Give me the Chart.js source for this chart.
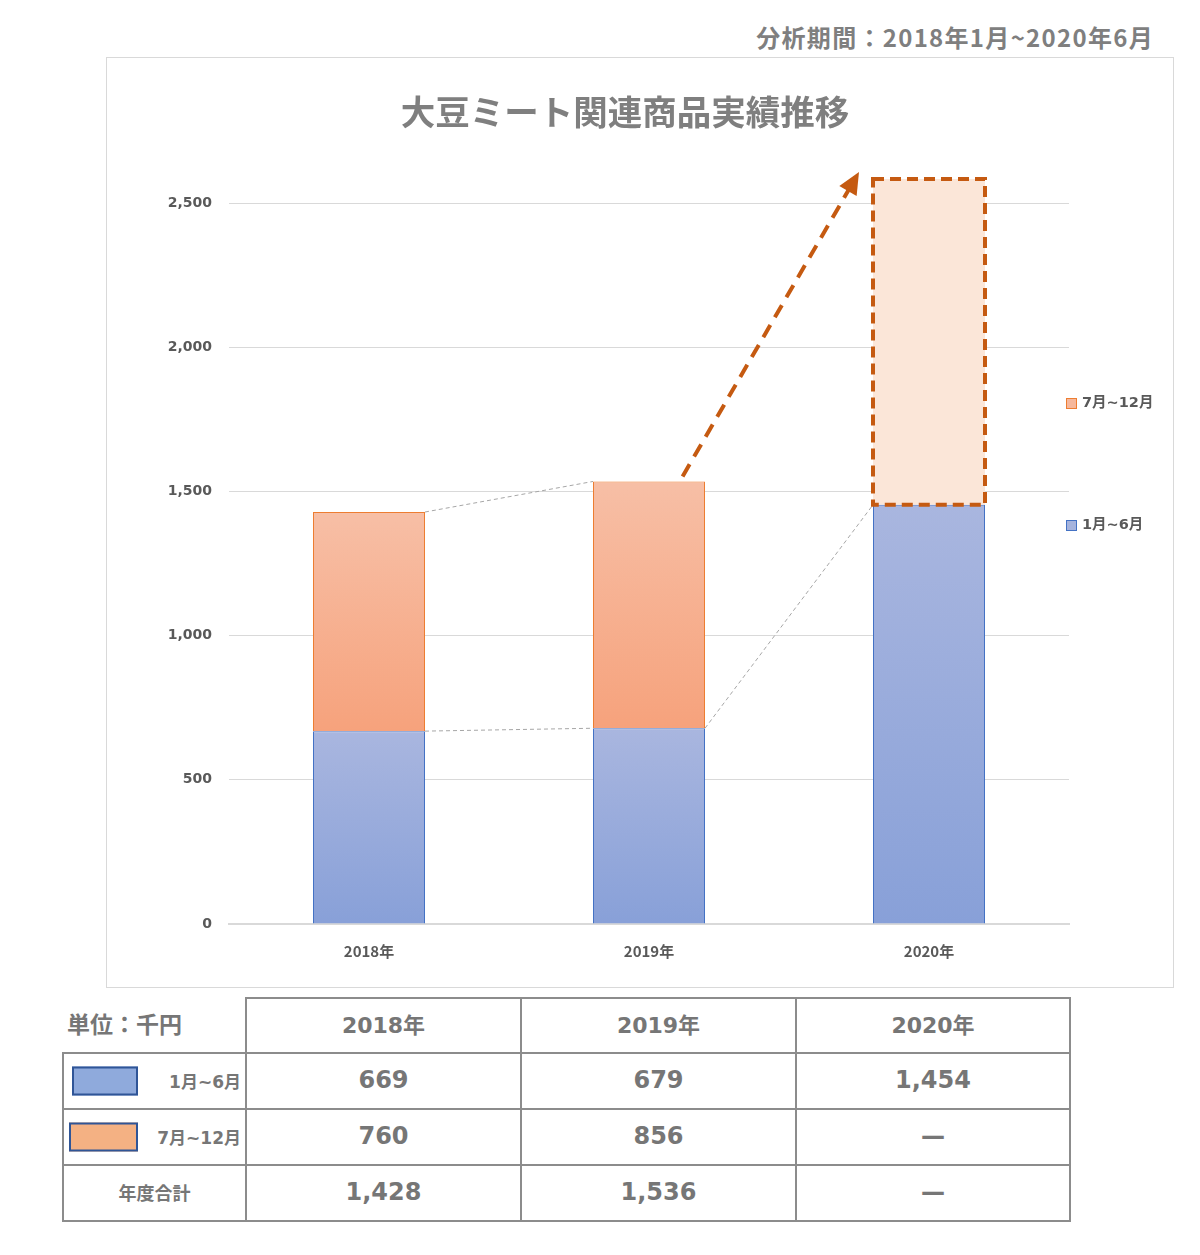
<!DOCTYPE html>
<html lang="ja">
<head>
<meta charset="utf-8">
<title>大豆ミート関連商品実績推移</title>
<script src="https://cdn.jsdelivr.net/npm/chart.js@4/dist/chart.umd.min.js"></script>
<style>
  html, body { margin: 0; padding: 0; background: #fff; }
  body { width: 1200px; height: 1255px; position: relative; overflow: hidden;
         font-family: "Noto Sans CJK JP", "Noto Sans", sans-serif; color: #7f7f7f; }
  #period { position: absolute; right: 46px; top: 21px; font-size: 24px; font-weight: bold;
            line-height: 32px; letter-spacing: 1.3px; color: #7f7f7f; }
  #chart-box { position: absolute; left: 106px; top: 57px; width: 1066px; height: 929px;
               border: 1px solid #d9d9d9; }
  #chart-box canvas { position: absolute; left: 0; top: 0; }
  #title { position: absolute; left: 0; width: 1250px; top: 89px; text-align: center;
           font-size: 34.5px; font-weight: bold; line-height: 42px; color: #7f7f7f; }
  #data-table { position: absolute; left: 62px; top: 997px; border-collapse: collapse;
                table-layout: fixed; font-family: "DejaVu Sans", "Noto Sans CJK JP", sans-serif;
                color: #767676; }
  #data-table td, #data-table th { border: 2px solid #8c8c8c; text-align: center; padding: 0;
                font-weight: bold; }
  #data-table th { font-size: 22px; height: 48px; padding-bottom: 5px; }
  #data-table td { font-size: 24px; height: 52px; padding-bottom: 2px; }
  #data-table th.unit { border-top: none; border-left: none; text-align: left; padding-left: 4px;
                font-family: "Noto Sans CJK JP", sans-serif; font-size: 23px; }
  #data-table td.label { position: relative; text-align: right; padding-right: 4px;
                font-size: 17px; }
  #data-table td.total { text-align: center; padding-right: 0; font-size: 18px;
                font-family: "Noto Sans CJK JP", sans-serif; }
  .swatch { position: absolute; top: 50%; transform: translateY(-50%); height: 29px;
            border: 2px solid #2f5597; box-sizing: border-box; }
</style>
</head>
<body>
<div id="period">分析期間：2018年1月~2020年6月</div>
<div id="chart-box"><canvas id="sales-chart" width="1066" height="929"></canvas></div>
<div id="title">大豆ミート関連商品実績推移</div>
<table id="data-table">
  <colgroup>
    <col style="width:183px"><col style="width:275px"><col style="width:275px"><col style="width:274px">
  </colgroup>
  <thead id="table-head"></thead>
  <tbody id="table-body"></tbody>
</table>

<script>
// 単位：千円
const years = ['2018年', '2019年', '2020年'];
const seriesNames = ['1月~6月', '7月~12月'];
const firstHalf = [669, 679, 1454];
const secondHalf = [760, 856, null];
const yearTotals = [1428, 1536, null];
// 2020年下期の見込み（点線の枠）
const projectedSecondHalf = [null, null, 1130];
const yTicks = [0, 500, 1000, 1500, 2000, 2500];

const colors = {
  blueTop: '#a9b6df',
  blueBottom: '#88a0d8',
  blueBorder: '#4472c4',
  orangeTop: '#f7bfa6',
  orangeBottom: '#f6a27c',
  orangeBorder: '#ed7d31',
  projFill: '#fbe6d8',
  projLine: '#c55a11',
  connector: '#a6a6a6',
  text: '#595959',
  grid: '#d9d9d9',
};

const labelFont = '"DejaVu Sans", "Noto Sans CJK JP", sans-serif';

function formatNumber(value) {
  if (value === null || !Number.isFinite(value)) return '—';
  return value.toLocaleString('en-US');
}

// 各セグメントごとの縦グラデーション
function segmentGradient(context, topColor, bottomColor) {
  const { chart, datasetIndex, dataIndex } = context;
  const y = chart.scales.y;
  if (!chart.chartArea || !y) return bottomColor;
  const base = datasetIndex === 0 ? 0 : firstHalf[dataIndex];
  const value = datasetIndex === 0 ? firstHalf[dataIndex] : secondHalf[dataIndex];
  if (value === null) return bottomColor;
  const gradient = chart.ctx.createLinearGradient(0, y.getPixelForValue(base + value), 0, y.getPixelForValue(base));
  gradient.addColorStop(0, topColor);
  gradient.addColorStop(1, bottomColor);
  return gradient;
}

function line(ctx, x1, y1, x2, y2) {
  ctx.beginPath();
  ctx.moveTo(x1, y1);
  ctx.lineTo(x2, y2);
  ctx.stroke();
}

const annotations = {
  id: 'annotations',
  afterDatasetsDraw(chart) {
    const ctx = chart.ctx;
    const h1 = chart.getDatasetMeta(0).data;
    const h2 = chart.getDatasetMeta(1).data;
    const proj = chart.getDatasetMeta(2).data[2];
    const right = (bar) => bar.x + bar.width / 2;
    const left = (bar) => bar.x - bar.width / 2;

    ctx.save();
    // 系列線
    ctx.strokeStyle = colors.connector;
    ctx.lineWidth = 1;
    ctx.setLineDash([4, 3]);
    line(ctx, right(h1[0]), h1[0].y, left(h1[1]), h1[1].y);
    line(ctx, right(h2[0]), h2[0].y, left(h2[1]), h2[1].y);
    line(ctx, right(h1[1]), h1[1].y, left(h1[2]), h1[2].y);

    // 見込み枠
    ctx.strokeStyle = colors.projLine;
    ctx.lineWidth = 4;
    ctx.setLineDash([11, 6]);
    ctx.strokeRect(left(proj), proj.y, proj.width, proj.base - proj.y);

    // 矢印
    const sx = h2[1].x + h2[1].width * 0.3;
    const sy = h2[1].y - 5;
    const tx = left(proj) - 14;
    const ty = proj.y - 7;
    const angle = Math.atan2(ty - sy, tx - sx);
    const headLen = 22;
    ctx.setLineDash([14, 9]);
    line(ctx, sx, sy, tx - Math.cos(angle) * headLen * 0.8, ty - Math.sin(angle) * headLen * 0.8);
    ctx.setLineDash([]);
    ctx.fillStyle = colors.projLine;
    ctx.beginPath();
    ctx.moveTo(tx, ty);
    ctx.lineTo(tx - headLen * Math.cos(angle) + 10 * Math.sin(angle), ty - headLen * Math.sin(angle) - 10 * Math.cos(angle));
    ctx.lineTo(tx - headLen * Math.cos(angle) - 10 * Math.sin(angle), ty - headLen * Math.sin(angle) + 10 * Math.cos(angle));
    ctx.closePath();
    ctx.fill();
    ctx.restore();
  },
  afterDraw(chart) {
    const ctx = chart.ctx;
    const area = chart.chartArea;
    const items = [
      { label: chart.data.datasets[1].label, fill: '#f6b89c', border: colors.orangeBorder, offset: 243 },
      { label: chart.data.datasets[0].label, fill: '#a5b3dd', border: colors.blueBorder, offset: 365 },
    ];
    ctx.save();
    ctx.font = `bold 14.5px ${labelFont}`;
    ctx.textBaseline = 'middle';
    items.forEach((item) => {
      const x = area.right - 3;
      const y = area.top + item.offset;
      ctx.fillStyle = item.fill;
      ctx.fillRect(x, y - 5, 10, 10);
      ctx.strokeStyle = item.border;
      ctx.lineWidth = 1;
      ctx.strokeRect(x + 0.5, y - 4.5, 10, 10);
      ctx.fillStyle = colors.text;
      ctx.fillText(item.label, x + 16, y);
    });
    ctx.restore();
  },
};

new Chart(document.querySelector('#sales-chart'), {
  type: 'bar',
  data: {
    labels: years,
    datasets: [
      {
        label: seriesNames[0],
        data: firstHalf,
        backgroundColor: (c) => segmentGradient(c, colors.blueTop, colors.blueBottom),
        borderColor: colors.blueBorder,
        borderWidth: 1,
      },
      {
        label: seriesNames[1],
        data: secondHalf,
        backgroundColor: (c) => segmentGradient(c, colors.orangeTop, colors.orangeBottom),
        borderColor: colors.orangeBorder,
        borderWidth: 1,
      },
      {
        label: '見込み',
        data: projectedSecondHalf,
        backgroundColor: colors.projFill,
        borderWidth: 0,
      },
    ],
  },
  options: {
    responsive: false,
    animation: false,
    devicePixelRatio: 1,
    layout: { padding: { top: 102, right: 104, bottom: 0, left: 0 } },
    datasets: { bar: { categoryPercentage: 1, barPercentage: 0.4 } },
    plugins: {
      legend: { display: false },
      title: { display: false },
      tooltip: { enabled: false },
    },
    scales: {
      x: {
        stacked: true,
        grid: { display: false },
        border: { display: true, color: colors.grid, width: 2 },
        ticks: {
          color: colors.text,
          padding: 10,
          font: { family: '"Noto Sans CJK JP", sans-serif', size: 15, weight: 'bold' },
        },
        afterFit(scale) { scale.height = 63; },
      },
      y: {
        stacked: true,
        min: 0,
        max: 2650,
        border: { display: false },
        grid: { color: colors.grid, lineWidth: 1, drawTicks: false },
        ticks: {
          stepSize: 500,
          padding: 17,
          color: colors.text,
          font: { family: labelFont, size: 14, weight: 'bold' },
          callback: (value) => value.toLocaleString('en-US'),
        },
        afterBuildTicks(scale) {
          scale.ticks = yTicks.map((value) => ({ value }));
        },
        afterFit(scale) { scale.width = 122; },
      },
    },
  },
  plugins: [annotations],
});

// 表
document.querySelector('#table-head').innerHTML = `
  <tr><th class="unit">単位：千円</th>${years.map((y) => `<th>${y}</th>`).join('')}</tr>`;

const swatches = [
  '<span class="swatch" style="left:8px;width:66px;background:#8faadc"></span>',
  '<span class="swatch" style="left:5px;width:69px;background:#f4b183"></span>',
];
const rows = [
  { label: swatches[0] + seriesNames[0], values: firstHalf, cls: 'label' },
  { label: swatches[1] + seriesNames[1], values: secondHalf, cls: 'label' },
  { label: '年度合計', values: yearTotals, cls: 'label total' },
];
document.querySelector('#table-body').innerHTML = rows
  .map((row) => `
    <tr>
      <td class="${row.cls}">${row.label}</td>
      ${row.values.map((v) => `<td>${formatNumber(v)}</td>`).join('')}
    </tr>`)
  .join('');
</script>
</body>
</html>
